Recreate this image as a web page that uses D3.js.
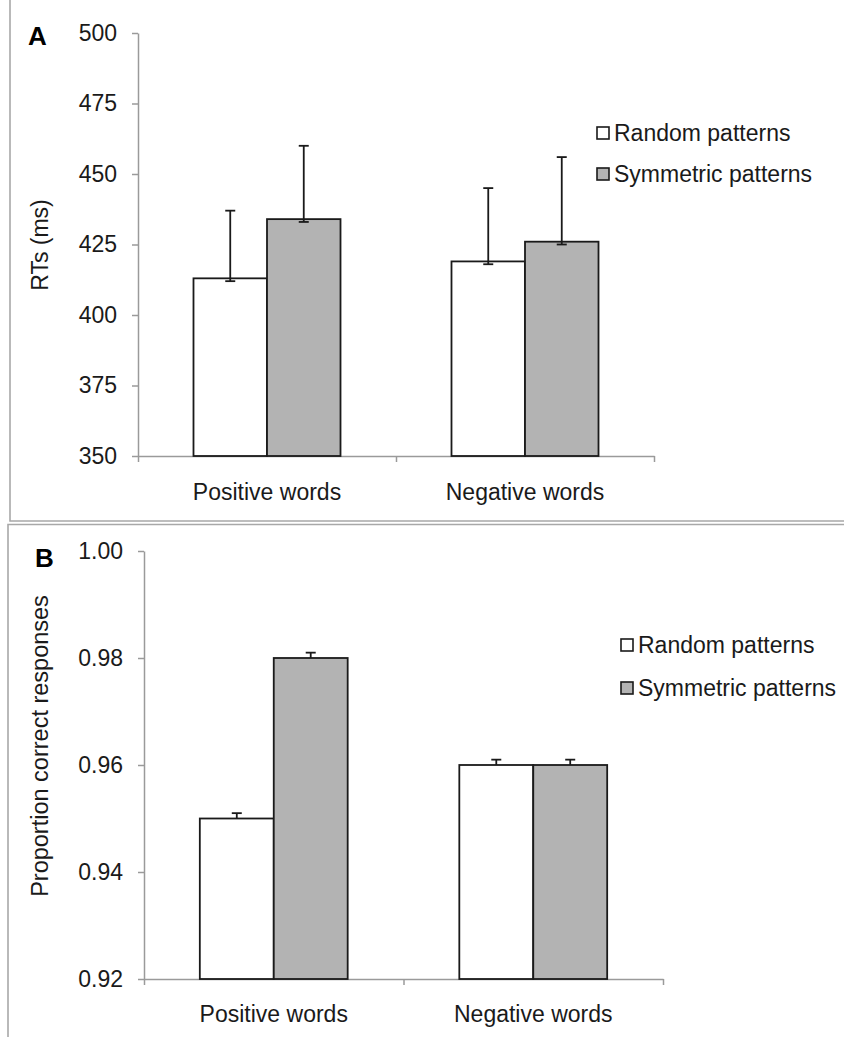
<!DOCTYPE html>
<html>
<head>
<meta charset="utf-8">
<script src="https://cdn.jsdelivr.net/npm/d3@7"></script>
<style>
  body { margin: 0; background: #fff; }
  svg { display: block; font-family: "Liberation Sans", Arial, sans-serif; }
</style>
</head>
<body>
<script>
// Data
const categories = ["Positive words", "Negative words"];
const seriesNames = ["Random patterns", "Symmetric patterns"];
const seriesFill = ["#ffffff", "#b3b3b3"];

// Panel A: reaction times
const rtRandom = [413, 419];
const rtSymmetric = [434, 426];
const rtRandomErrHigh = [437, 445];
const rtSymmetricErrHigh = [460, 456];
const rtRandomErrLow = [412, 418];
const rtSymmetricErrLow = [433, 425];
const rtTicks = [350, 375, 400, 425, 450, 475, 500];

// Panel B: accuracy
const accRandom = [0.95, 0.96];
const accSymmetric = [0.98, 0.96];
const accRandomErrHigh = [0.951, 0.961];
const accSymmetricErrHigh = [0.981, 0.961];
const accTicks = [0.92, 0.94, 0.96, 0.98, 1.0];

let w = 844;
let h = 1037;
let fontSize = 23;
let axisColor = "#9a9a9a";
let inkColor = "#1a1a1a";

let svg = d3.select("body").append("svg").attr("width", w).attr("height", h);

// Panel frames (double rule between panels)
svg.append("path")
  .attr("d", "M10,0 V521 H844")
  .attr("fill", "none").attr("stroke", "#a8a8a8").attr("stroke-width", 1.6);
svg.append("path")
  .attr("d", "M8,1037 V524.5 H844")
  .attr("fill", "none").attr("stroke", "#a8a8a8").attr("stroke-width", 1.6);

function rows(values, high, low) {
  return categories.map((c, i) => ({
    category: c, value: values[i], high: high[i], low: low ? low[i] : values[i]
  }));
}

function drawPanel(opt) {
  let g = svg.append("g");

  let xScale = d3.scaleBand()
    .domain(categories)
    .range([opt.x0, opt.x1])
    .padding(0);

  let xSub = d3.scaleBand()
    .domain(seriesNames)
    .range([0, xScale.bandwidth()])
    .paddingInner(0)
    .paddingOuter(0.755);

  let yScale = d3.scaleLinear()
    .domain(opt.domain)
    .range([opt.y1, opt.y0]);

  // y axis
  let yAxis = d3.axisLeft(yScale)
    .tickValues(opt.ticks)
    .tickFormat(opt.format)
    .tickSize(6)
    .tickSizeOuter(0)
    .tickPadding(15);
  let ya = g.append("g")
    .attr("transform", "translate(" + opt.x0 + ",0)")
    .call(yAxis);
  ya.selectAll("path, line").attr("stroke", axisColor).attr("stroke-width", 1.5);
  ya.selectAll("text")
    .attr("font-size", fontSize)
    .attr("font-family", "Liberation Sans, Arial, sans-serif")
    .attr("fill", inkColor);

  // x axis: line with ticks at category boundaries
  let edge = d3.scaleLinear().domain([0, categories.length]).range([opt.x0, opt.x1]);
  let xEdge = d3.axisBottom(edge)
    .tickValues(d3.range(categories.length + 1))
    .tickFormat("")
    .tickSize(6)
    .tickSizeOuter(0);
  let xa = g.append("g")
    .attr("transform", "translate(0," + opt.y1 + ")")
    .call(xEdge);
  xa.selectAll("path, line").attr("stroke", axisColor).attr("stroke-width", 1.5);

  // category labels
  let xLab = g.append("g")
    .attr("transform", "translate(0," + opt.y1 + ")")
    .call(d3.axisBottom(xScale).tickSize(0).tickPadding(opt.labelPad));
  xLab.select(".domain").remove();
  xLab.selectAll("text")
    .attr("font-size", fontSize)
    .attr("font-family", "Liberation Sans, Arial, sans-serif")
    .attr("fill", inkColor);

  // bars
  opt.series.forEach((data, s) => {
    let name = seriesNames[s];
    g.append("g")
      .selectAll("rect")
      .data(data)
      .enter()
      .append("rect")
      .attr("x", (d) => xScale(d.category) + xSub(name))
      .attr("y", (d) => yScale(d.value))
      .attr("width", xSub.bandwidth())
      .attr("height", (d) => yScale(opt.domain[0]) - yScale(d.value))
      .attr("fill", seriesFill[s])
      .attr("stroke", inkColor)
      .attr("stroke-width", 1.8);

    // error bars
    let eg = g.append("g").attr("stroke", inkColor).attr("stroke-width", 1.8);
    let cx = (d) => xScale(d.category) + xSub(name) + xSub.bandwidth() / 2;
    eg.selectAll(".stem").data(data).enter().append("line")
      .attr("x1", cx).attr("x2", cx)
      .attr("y1", (d) => yScale(d.low))
      .attr("y2", (d) => yScale(d.high));
    eg.selectAll(".capHigh").data(data).enter().append("line")
      .attr("x1", (d) => cx(d) - 5).attr("x2", (d) => cx(d) + 5)
      .attr("y1", (d) => yScale(d.high))
      .attr("y2", (d) => yScale(d.high));
    eg.selectAll(".capLow").data(data.filter((d) => d.low < d.value)).enter().append("line")
      .attr("x1", (d) => cx(d) - 5).attr("x2", (d) => cx(d) + 5)
      .attr("y1", (d) => yScale(d.low))
      .attr("y2", (d) => yScale(d.low));
  });

  // y axis title
  g.append("text")
    .text(opt.title)
    .attr("transform", "translate(" + opt.titleX + "," + opt.titleY + ") rotate(-90)")
    .attr("text-anchor", "middle")
    .attr("dominant-baseline", "central")
    .attr("font-size", opt.titleSize)
    .attr("fill", inkColor);

  // panel letter
  g.append("text")
    .text(opt.letter)
    .attr("x", opt.letterX)
    .attr("y", opt.letterY)
    .attr("font-size", 26)
    .attr("font-weight", "bold")
    .attr("fill", "#000");

  // legend
  let lg = g.append("g").attr("transform", "translate(" + opt.legendX + "," + opt.legendY + ")");
  seriesNames.forEach((name, i) => {
    let row = lg.append("g").attr("transform", "translate(0," + i * opt.legendStep + ")");
    row.append("rect")
      .attr("x", 0).attr("y", -6)
      .attr("width", 12).attr("height", 12)
      .attr("fill", seriesFill[i])
      .attr("stroke", inkColor)
      .attr("stroke-width", 1.6);
    row.append("text")
      .text(name)
      .attr("x", 17)
      .attr("y", 0)
      .attr("dominant-baseline", "central")
      .attr("font-size", fontSize)
      .attr("fill", inkColor);
  });
}

drawPanel({
  letter: "A", letterX: 28, letterY: 45,
  title: "RTs (ms)", titleX: 40, titleY: 245, titleSize: 23,
  x0: 138, x1: 654, y0: 33, y1: 456,
  domain: [350, 500], ticks: rtTicks, format: d3.format("d"),
  labelPad: 28,
  series: [
    rows(rtRandom, rtRandomErrHigh, rtRandomErrLow),
    rows(rtSymmetric, rtSymmetricErrHigh, rtSymmetricErrLow)
  ],
  legendX: 597, legendY: 133, legendStep: 41
});

drawPanel({
  letter: "B", letterX: 35, letterY: 567,
  title: "Proportion correct responses", titleX: 40, titleY: 746, titleSize: 23.5,
  x0: 144, x1: 663, y0: 551, y1: 979,
  domain: [0.92, 1.0], ticks: accTicks, format: d3.format(".2f"),
  labelPad: 27,
  series: [
    rows(accRandom, accRandomErrHigh),
    rows(accSymmetric, accSymmetricErrHigh)
  ],
  legendX: 621, legendY: 645, legendStep: 43
});
</script>
</body>
</html>
